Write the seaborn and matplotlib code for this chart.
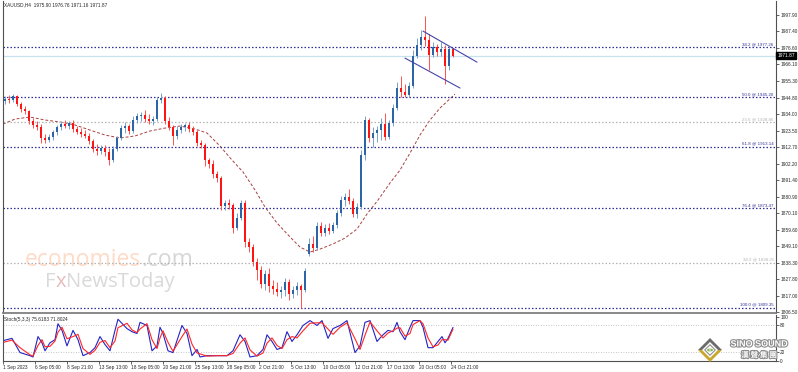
import numpy as np
import pandas as pd
import matplotlib
matplotlib.use("Agg")
import matplotlib.pyplot as plt
import matplotlib.patheffects as pe
from matplotlib.patches import Polygon, Circle
import seaborn as sns

# XAUUSD H4, 1 Sep - 24 Oct 2023 (one candle per two bars)
opens = [
    1942.5, 1943.8, 1943.2, 1945.7, 1940.6, 1937.4, 1936.1, 1929.6, 1927.1, 1925.8,
    1918.7, 1917.4, 1919.3, 1922.5, 1925.8, 1927.7, 1926.4, 1928.3, 1924.5, 1922.5,
    1921.3, 1920.0, 1916.7, 1911.6, 1910.3, 1912.2, 1909.7, 1904.5, 1911.6, 1918.7,
    1925.1, 1926.4, 1923.2, 1930.3, 1932.9, 1933.5, 1930.9, 1929.6, 1930.9, 1943.2,
    1944.5, 1929.6, 1925.8, 1920.0, 1923.8, 1925.8, 1927.1, 1924.5, 1922.5, 1915.5,
    1914.2, 1904.5, 1901.9, 1895.5, 1892.9, 1874.9, 1876.8, 1875.5, 1860.7, 1867.1,
    1876.8, 1851.7, 1848.4, 1838.8, 1833.6, 1824.6, 1831.0, 1823.3, 1821.4, 1819.4,
    1820.7, 1825.9, 1818.2, 1820.7, 1823.3, 1820.7, 1843.9, 1850.4, 1847.8, 1862.0,
    1857.5, 1860.7, 1858.7, 1862.6, 1870.3, 1878.7, 1880.7, 1878.1, 1869.7, 1874.2,
    1907.7, 1930.3, 1918.7, 1921.9, 1923.8, 1927.7, 1919.3, 1928.3, 1938.0, 1950.9,
    1948.3, 1946.4, 1952.2, 1971.5, 1978.6, 1983.8, 1981.8, 1972.2, 1977.3, 1974.1,
    1976.0, 1965.1, 1975.90,
]
highs = [
    1945.7, 1946.4, 1947.0, 1946.4, 1941.9, 1939.3, 1936.7, 1931.6, 1929.6, 1927.7,
    1921.3, 1921.3, 1923.8, 1927.1, 1929.6, 1930.3, 1929.6, 1930.3, 1926.4, 1925.1,
    1923.8, 1921.9, 1918.0, 1914.8, 1914.2, 1914.2, 1912.2, 1913.5, 1920.0, 1927.1,
    1929.0, 1927.7, 1932.9, 1934.8, 1935.4, 1936.7, 1934.1, 1932.9, 1945.1, 1947.7,
    1945.7, 1932.2, 1927.1, 1926.4, 1927.7, 1928.3, 1929.0, 1926.4, 1923.8, 1917.4,
    1915.5, 1905.8, 1904.5, 1897.4, 1894.2, 1878.7, 1879.4, 1876.8, 1870.3, 1878.7,
    1878.7, 1854.2, 1850.4, 1841.3, 1836.2, 1833.6, 1834.9, 1827.2, 1825.9, 1823.3,
    1828.5, 1827.8, 1823.3, 1825.9, 1824.6, 1834.9, 1854.2, 1855.5, 1864.5, 1864.5,
    1863.3, 1863.9, 1864.5, 1872.3, 1881.3, 1883.2, 1885.8, 1880.0, 1876.8, 1910.9,
    1932.9, 1931.6, 1925.8, 1926.4, 1931.6, 1934.8, 1930.3, 1940.6, 1954.8, 1958.6,
    1953.5, 1954.8, 1975.4, 1983.1, 1988.3, 1997.3, 1985.7, 1980.5, 1979.3, 1980.5,
    1978.6, 1977.3, 1976.76,
]
lows = [
    1940.6, 1941.2, 1941.9, 1939.3, 1935.4, 1934.1, 1927.7, 1925.1, 1923.8, 1915.5,
    1915.5, 1916.1, 1917.4, 1920.6, 1923.8, 1925.1, 1924.5, 1922.5, 1921.3, 1919.3,
    1918.7, 1914.8, 1909.7, 1907.7, 1908.4, 1907.1, 1901.3, 1903.2, 1910.3, 1917.4,
    1921.9, 1921.3, 1921.9, 1928.3, 1929.6, 1929.0, 1927.7, 1927.1, 1929.6, 1941.2,
    1927.7, 1923.8, 1914.2, 1918.0, 1921.9, 1923.2, 1922.5, 1920.6, 1913.5, 1912.2,
    1900.6, 1899.3, 1892.9, 1890.3, 1872.3, 1872.3, 1872.9, 1857.5, 1859.4, 1865.8,
    1848.4, 1845.2, 1836.2, 1827.2, 1822.0, 1820.7, 1819.4, 1818.2, 1816.9, 1815.6,
    1816.9, 1814.3, 1815.6, 1817.5, 1809.35, 1819.4, 1842.6, 1845.2, 1846.5, 1855.5,
    1855.5, 1856.8, 1857.5, 1860.7, 1868.4, 1874.9, 1876.1, 1867.8, 1867.1, 1872.9,
    1904.5, 1916.1, 1912.9, 1916.1, 1917.4, 1917.4, 1918.0, 1926.4, 1936.7, 1945.1,
    1945.1, 1945.1, 1950.9, 1970.2, 1975.4, 1978.0, 1962.5, 1970.9, 1971.5, 1971.5,
    1953.5, 1962.5, 1971.16,
]
closes = [
    1943.8, 1943.2, 1945.7, 1940.6, 1937.4, 1936.1, 1929.6, 1927.1, 1925.8, 1918.7,
    1917.4, 1919.3, 1922.5, 1925.8, 1927.7, 1926.4, 1928.3, 1924.5, 1922.5, 1921.3,
    1920.0, 1916.7, 1911.6, 1910.3, 1912.2, 1909.7, 1904.5, 1911.6, 1918.7, 1925.1,
    1926.4, 1923.2, 1930.3, 1932.9, 1933.5, 1930.9, 1929.6, 1930.9, 1943.2, 1944.5,
    1929.6, 1925.8, 1920.0, 1923.8, 1925.8, 1927.1, 1924.5, 1922.5, 1915.5, 1914.2,
    1904.5, 1901.9, 1895.5, 1892.9, 1874.9, 1876.8, 1875.5, 1860.7, 1867.1, 1876.8,
    1851.7, 1848.4, 1838.8, 1833.6, 1824.6, 1831.0, 1823.3, 1821.4, 1819.4, 1820.7,
    1825.9, 1818.2, 1820.7, 1823.3, 1820.7, 1833.0, 1850.4, 1847.8, 1862.0, 1857.5,
    1860.7, 1858.7, 1862.6, 1870.3, 1878.7, 1880.7, 1878.1, 1869.7, 1874.2, 1907.7,
    1930.3, 1918.7, 1921.9, 1923.8, 1927.7, 1919.3, 1928.3, 1938.0, 1950.9, 1948.3,
    1946.4, 1952.2, 1971.5, 1978.6, 1983.8, 1981.8, 1972.2, 1977.3, 1974.1, 1976.0,
    1965.1, 1975.9, 1971.87,
]

# moving average (sampled along the curve)
ma_bar = [-0.5, 2.5, 6.25, 10, 13.75, 17.5, 21.25, 25, 28.75, 32.5, 36.25, 40, 43.75,
          47.5, 50.5, 53.75, 56.75, 59.5, 62.5, 65, 68, 71.25, 73.75, 76.25, 78.75, 82,
          85, 88, 90.5, 93.25, 96.25, 98.75, 101.25, 103.75, 106.25, 108.75, 112.5]
ma_val = [1927.7, 1930.9, 1932.2, 1930.3, 1929.0, 1927.1, 1923.8, 1920.6, 1918.7, 1920.0,
          1923.2, 1925.1, 1926.4, 1924.5, 1921.9, 1913.5, 1904.5, 1896.8, 1885.2, 1874.2,
          1863.9, 1854.9, 1848.4, 1845.2, 1847.1, 1850.4, 1854.2, 1860.0, 1869.7, 1878.7,
          1889.7, 1898.0, 1909.0, 1920.6, 1930.3, 1938.0, 1947.0]

# Stoch(5,3,3)
st_bar = [-1.25, 1.75, 3.75, 6.25, 7, 8.25, 9.25, 10, 11.25, 12.5, 13.25, 14.25, 15.5, 17,
          18.25, 19.5, 21.25, 22.5, 23.75, 25, 26.25, 27.5, 28.25, 30.5, 31.75, 33, 33.75,
          35.5, 36.75, 38, 38.75, 39.5, 40.75, 42, 44.25, 45.5, 46.75, 48, 48.75, 50.5, 53,
          55.5, 57, 58.75, 60, 61.25, 63, 64.5, 65.5, 66.75, 68, 69.25, 70.5, 71.75, 73,
          74.5, 76.25, 78, 79.25, 80.75, 82, 83.75, 85.5, 87.5, 88.75, 90, 91.25, 93, 94.5,
          95.75, 97, 98, 98.75, 100, 101.25, 102, 103.75, 104.5, 105.75, 107, 108.25,
          109.25, 110, 110.75, 112]
stoch_main = [44, 51, 19, 12, 9, 55, 41, 23, 41, 48, 84, 69, 34, 69, 48, 12, 19, 30, 55, 37,
              23, 69, 94, 73, 66, 62, 87, 80, 23, 34, 76, 62, 23, 19, 80, 62, 12, 26, 9, 12,
              12, 12, 23, 59, 44, 9, 12, 26, 59, 44, 26, 30, 66, 44, 59, 80, 91, 80, 91, 51,
              73, 80, 91, 19, 34, 87, 91, 44, 59, 69, 66, 87, 66, 48, 76, 91, 91, 76, 30, 30,
              44, 55, 41, 51, 75.6183]
stoch_signal = [40, 47, 30, 14, 11, 35, 48, 32, 33, 45, 65, 76, 50, 55, 60, 28, 15, 24, 42, 46,
                30, 45, 75, 85, 70, 64, 72, 84, 48, 28, 52, 68, 42, 22, 55, 72, 38, 18, 16, 11,
                12, 12, 17, 40, 52, 25, 11, 18, 40, 52, 35, 28, 48, 55, 52, 68, 85, 86, 86, 72,
                60, 76, 86, 50, 26, 58, 88, 68, 52, 63, 68, 74, 75, 56, 62, 82, 91, 84, 52, 32,
                36, 48, 48, 47, 71.8024]

# Fibonacci levels
fib_vals = [1977.26, 1945.20, 1928.86, 1913.14, 1873.47, 1838.25, 1809.35]
fib_names = ["38.2", "50.0", "23.6", "61.8", "76.4", "38.2", "100.0"]
fib_main = [True, True, False, True, True, False, True]

# drawn channel
chan_up_bar = [104.5, 118]
chan_up_val = [1987.6, 1967.6]
chan_lo_bar = [100, 113.75]
chan_lo_val = [1970.2, 1950.9]

price_ticks = [1997.90, 1987.40, 1976.60, 1966.10, 1955.30, 1944.80, 1934.00, 1923.50,
               1912.70, 1902.20, 1891.40, 1880.90, 1870.10, 1859.60, 1849.10, 1838.30,
               1827.80, 1817.00, 1806.50]
time_labels = ["1 Sep 2023", "6 Sep 05:00", "8 Sep 21:00", "13 Sep 13:00", "18 Sep 05:00",
               "20 Sep 21:00", "25 Sep 13:00", "28 Sep 05:00", "2 Oct 21:00", "5 Oct 13:00",
               "10 Oct 05:00", "12 Oct 21:00", "17 Oct 13:00", "20 Oct 05:00", "24 Oct 21:00"]

sns.set_style("white")
plt.rcParams["font.family"] = ["Liberation Sans", "DejaVu Sans"]

W, H = 798, 372
def fpos(x, y):
    return x / W, 1 - y / H

NAVY = "#2e2e9a"
GREY = "#b4b4b4"
SMALL = 3.4

fig = plt.figure(figsize=(W / 100, H / 100), dpi=100)
ax = fig.add_axes([3 / W, 1 - 313 / H, 773 / W, 312 / H])
ax_st = fig.add_axes([3 / W, 1 - 361 / H, 773 / W, 46 / H])

# candles
df = pd.DataFrame({"open": opens, "high": highs, "low": lows, "close": closes})
df["bar"] = np.arange(len(df))
df["up"] = df["close"] >= df["open"]
for is_up, body_col, wick_col in [(True, "#2d64a6", "#78a2cf"), (False, "#ff1414", "#ff5050")]:
    d = df[df["up"] == is_up]
    ax.vlines(d["bar"], d["low"], d["high"], colors=wick_col, lw=0.7, zorder=3)
    ax.bar(d["bar"], (d["close"] - d["open"]).abs().clip(lower=0.5),
           bottom=d[["open", "close"]].min(axis=1), width=0.5, color=body_col,
           lw=0, zorder=4)

# MA
sns.lineplot(x=ma_bar, y=ma_val, ax=ax, color="#a84040", lw=0.7,
             linestyle=(0, (3, 2)), legend=False, zorder=2)

# fib lines + labels
for val, name, main in zip(fib_vals, fib_names, fib_main):
    col = NAVY if main else GREY
    ax.axhline(val, color=col, ls=(0, (1.2, 1.6)), lw=0.9, zorder=2)
    ax.text(0.997, val + 0.6, f"{name} @ {val:.2f}", transform=ax.get_yaxis_transform(),
            ha="right", va="bottom", fontsize=3.2, color=col, zorder=5)

# bid line and price tag
ax.axhline(closes[-1], color="#c6e2ee", lw=0.9, zorder=1)
ax.text(1.002, closes[-1], f"{closes[-1]:.2f}", transform=ax.get_yaxis_transform(),
        ha="left", va="center", fontsize=SMALL, color="white", zorder=6, clip_on=False,
        bbox=dict(boxstyle="square,pad=0.25", fc="black", ec="black"))

# channel
ax.plot(chan_up_bar, chan_up_val, color="#4545a8", lw=0.8, zorder=5)
ax.plot(chan_lo_bar, chan_lo_val, color="#4545a8", lw=0.8, zorder=5)

# stochastic
ax_st.axhline(80, color=GREY, ls=(0, (1, 2)), lw=0.6)
ax_st.axhline(20, color=GREY, ls=(0, (1, 2)), lw=0.6)
sns.lineplot(x=st_bar, y=stoch_main, ax=ax_st, color="#2424c4", lw=0.8, legend=False)
sns.lineplot(x=st_bar, y=stoch_signal, ax=ax_st, color="#ff2626", lw=0.8, legend=False)

# axes cosmetics
for a in (ax, ax_st):
    a.set_xlim(-0.5, 192.75)
    a.set_xlabel("")
    a.set_ylabel("")
    a.yaxis.tick_right()
    for s in a.spines.values():
        s.set_color("#505050")
        s.set_linewidth(0.8)
ax.spines["top"].set_visible(False)
ax.spines["bottom"].set_color("#808080")
ax.spines["bottom"].set_linewidth(1.3)
ax_st.spines["top"].set_visible(False)

ax.set_ylim(1805.9, 2007.0)
ax.set_xticks([])
ax.set_yticks(price_ticks)
ax.set_yticklabels([f"{v:.2f}" for v in price_ticks])
ax.tick_params(axis="y", labelsize=SMALL, length=2, width=0.5, pad=1, right=True, left=False)

ax_st.set_ylim(0, 103.6)
ax_st.set_yticks([100, 80, 20, 0])
ax_st.set_yticklabels(["100", "80", "20", "0"])
ax_st.tick_params(axis="y", labelsize=SMALL, length=2, width=0.5, pad=1, right=True, left=False)
ax_st.set_xticks([8 * k - 0.5 for k in range(len(time_labels))])
ax_st.set_xticklabels(time_labels)
ax_st.tick_params(axis="x", labelsize=SMALL, length=2, width=0.5, pad=1.2, bottom=True)
for lbl in ax_st.get_xticklabels():
    lbl.set_ha("left")

# header texts
fig.text(*fpos(4, 5), f"XAUUSD,H4  {opens[-1]:.2f} {highs[-1]:.2f} {lows[-1]:.2f} {closes[-1]:.2f}",
         fontsize=SMALL, va="center", ha="left")
fig.text(*fpos(4, 319), f"Stoch(5,3,3) {stoch_main[-1]:.4f} {stoch_signal[-1]:.4f}",
         fontsize=SMALL, va="center", ha="left")

# watermark
t1 = ax.text(*fpos(25, 272), "economies", transform=fig.transFigure, fontsize=16.5,
             family="Open Sans", color="#fddbc6", va="bottom", zorder=0.5)
ax.annotate(".com", xy=(1, 0), xycoords=t1, fontsize=16.5, family="Open Sans",
            color="#d6d6d6", va="bottom", zorder=0.5)
t2 = ax.text(*fpos(45, 292), "F", transform=fig.transFigure, fontsize=14.5,
             family="Open Sans", color="#d9d9d9", va="bottom", zorder=0.5)
t3 = ax.annotate("x", xy=(1, 0), xycoords=t2, fontsize=14.5, family="Open Sans",
                 color="#e8bcbc", va="bottom", zorder=0.5)
ax.annotate("NewsToday", xy=(1, 0), xycoords=t3, fontsize=14.5, family="Open Sans",
            color="#d9d9d9", va="bottom", zorder=0.5)

# SINO SOUND logo
cx, cy = 710, 350
def diamond(r, col):
    pts = [fpos(cx, cy - r), fpos(cx + r, cy), fpos(cx, cy + r), fpos(cx - r, cy)]
    fig.add_artist(Polygon(pts, closed=True, fc=col, ec="none", transform=fig.transFigure))
fig.add_artist(Polygon([fpos(cx - 12, cy), fpos(cx, cy + 12), fpos(cx + 12, cy)], closed=True,
                       fc="#c9a72a", ec="none", transform=fig.transFigure))
fig.add_artist(Polygon([fpos(cx - 12, cy), fpos(cx, cy - 12), fpos(cx + 12, cy)], closed=True,
                       fc="#6c6c6c", ec="none", transform=fig.transFigure))
diamond(8, "white")
diamond(6, "#8a8a8a")
diamond(4.5, "white")
fig.add_artist(Circle(fpos(cx, cy), 3 / W, fc="#7cb342", ec="none", transform=fig.transFigure))
fig.add_artist(Circle(fpos(cx, cy), 1.2 / W, fc="white", ec="none", transform=fig.transFigure))
halo = [pe.withStroke(linewidth=1.6, foreground="#8c8c8c")]
fig.text(*fpos(759, 344), "SINO SOUND", fontsize=6.5, weight="bold", color="white",
         ha="center", va="center", path_effects=halo)
fig.text(*fpos(759, 355), "漢 聲 集 團", fontsize=5.5, weight="bold", color="white",
         ha="center", va="center", family=["Noto Sans CJK TC", "DejaVu Sans"], path_effects=halo)

fig.savefig("out.png", dpi=100, facecolor="white")
